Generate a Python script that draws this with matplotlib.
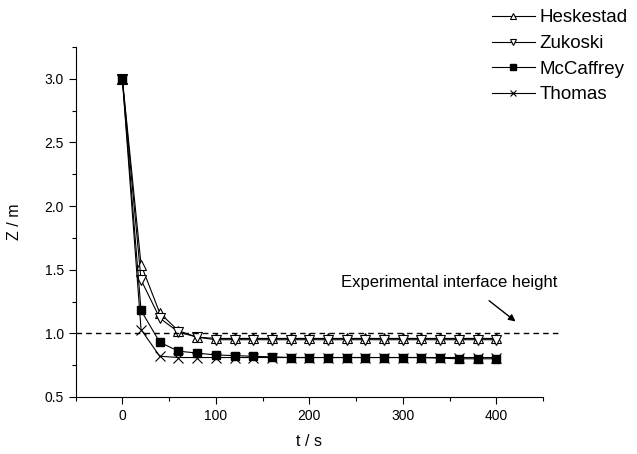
import matplotlib
matplotlib.use('Agg')
import matplotlib.pyplot as plt
import numpy as np

plt.rcParams['font.family'] = ['Liberation Sans', 'DejaVu Sans']

# time steps (s)
t = np.arange(0, 401, 20)

heskestad = [3.00, 1.54, 1.16, 1.02, 0.97, 0.96, 0.96, 0.96, 0.96, 0.96, 0.96,
             0.96, 0.96, 0.96, 0.96, 0.96, 0.96, 0.96, 0.96, 0.96, 0.96]
zukoski = [3.00, 1.42, 1.12, 1.01, 0.97, 0.95, 0.95, 0.95, 0.95, 0.95, 0.95,
           0.95, 0.95, 0.95, 0.95, 0.95, 0.95, 0.95, 0.95, 0.95, 0.95]
mccaffrey = [3.00, 1.18, 0.93, 0.86, 0.845, 0.83, 0.825, 0.82, 0.815, 0.81, 0.81,
             0.81, 0.81, 0.81, 0.81, 0.81, 0.81, 0.805, 0.80, 0.80, 0.80]
thomas = [3.00, 1.03, 0.82, 0.81, 0.81, 0.81, 0.81, 0.81, 0.81, 0.81, 0.81,
          0.81, 0.81, 0.81, 0.81, 0.81, 0.81, 0.81, 0.81, 0.81, 0.81]

exp_height = 1.0

fig = plt.figure(figsize=(6.37, 4.54), dpi=100)
ax = fig.add_axes([0.1187, 0.1256, 0.7337, 0.7709])

ax.plot(t, heskestad, '-', color='black', lw=0.8, marker='^', ms=7,
        mfc='white', mec='black', mew=0.8, label='Heskestad')
ax.plot(t, zukoski, '-', color='black', lw=0.8, marker='v', ms=7,
        mfc='white', mec='black', mew=0.8, label='Zukoski')
ax.plot(t, mccaffrey, '-', color='black', lw=0.8, marker='s', ms=5.5,
        mfc='black', mec='black', label='McCaffrey')
ax.plot(t, thomas, '-', color='black', lw=0.8, marker='x', ms=7,
        mew=0.8, label='Thomas')

# experimental interface height, runs a bit past the axes
ax.plot([-50, 468], [exp_height, exp_height], color='black', lw=1.0,
        dashes=(4, 3), clip_on=False)
ax.annotate('', xy=(423, 1.08), xytext=(390, 1.27),
            arrowprops=dict(arrowstyle='-|>', color='black', lw=1.0,
                            mutation_scale=10), annotation_clip=False)
ax.text(350, 1.40, 'Experimental interface height', ha='center', va='center',
        fontsize=12)

ax.set_xlim(-50, 450)
ax.set_ylim(0.5, 3.25)
ax.set_xticks([0, 100, 200, 300, 400])
ax.set_xticks(np.arange(-50, 451, 50), minor=True)
ax.set_yticks([0.5, 1.0, 1.5, 2.0, 2.5, 3.0])
ax.set_yticks(np.arange(0.5, 3.26, 0.25), minor=True)
ax.set_yticklabels(['0.5', '1.0', '1.5', '2.0', '2.5', '3.0'])
ax.tick_params(which='major', direction='out', length=5, width=0.8, labelsize=10)
ax.tick_params(which='minor', direction='out', length=3, width=0.8)
ax.spines['top'].set_visible(False)
ax.spines['right'].set_visible(False)

ax.set_xlabel('t / s', fontsize=11.5, labelpad=8)
ax.set_ylabel('Z / m', fontsize=11.5, labelpad=16)

fig.legend(loc='upper left', bbox_to_anchor=(0.757, 1.0), frameon=False,
           fontsize=13.5, handlelength=2.3, handletextpad=0.25, labelspacing=0.45,
           borderaxespad=0.1, markerscale=0.7)

fig.savefig('out.png', dpi=100)
